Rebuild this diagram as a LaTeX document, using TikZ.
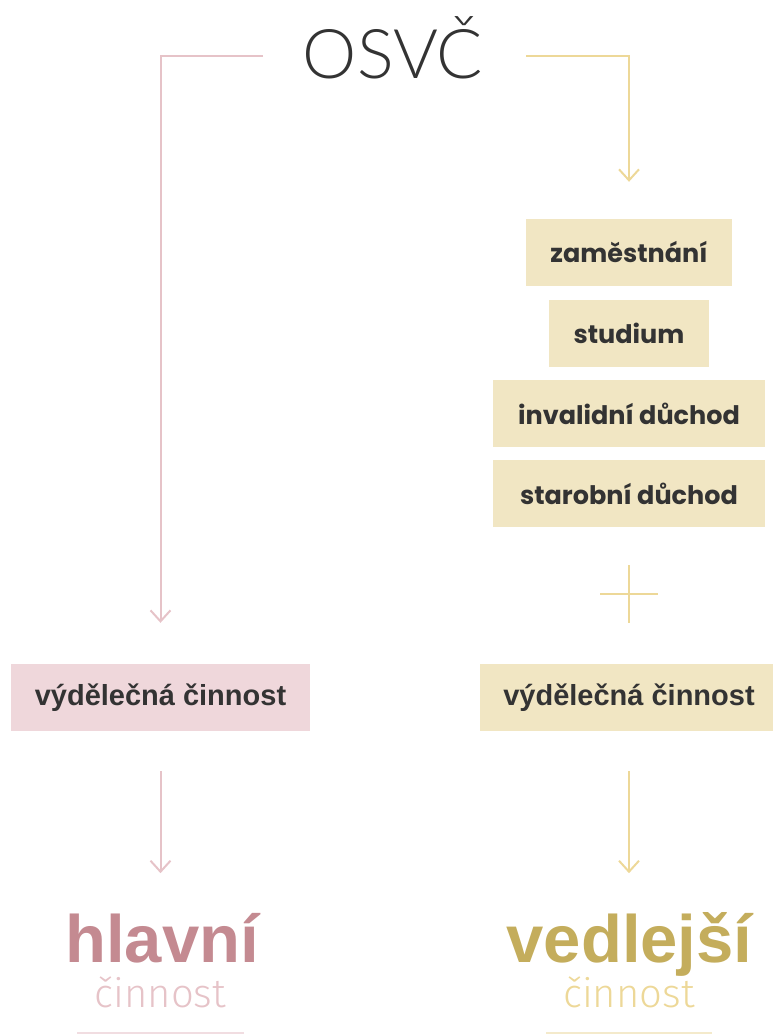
\documentclass[tikz,border=0pt]{standalone}
\usepackage{fontspec}
\setmainfont{Liberation Sans}
\newfontfamily\lightfont{Fira Sans}[UprightFont={* Light}]
\newfontfamily\titlefont{Lato}[UprightFont={* Light}]
\newfontfamily\boxfont{Poppins}
\usetikzlibrary{arrows.meta}
\definecolor{pinkline}{HTML}{E6C3C8}
\definecolor{pinkfill}{HTML}{EFD7DB}
\definecolor{pinkstrong}{HTML}{C48A91}
\definecolor{pinkfaint}{HTML}{F1DDE1}
\definecolor{yelline}{HTML}{EDD898}
\definecolor{yelfill}{HTML}{F1E6C3}
\definecolor{yelstrong}{HTML}{C4AD5C}
\definecolor{yelfaint}{HTML}{F4EACB}
\definecolor{darktext}{HTML}{333333}
\tikzset{
  x=1pt, y=-1pt,
  vtip/.style={-{Straight Barb[length=11pt,width=20pt,line width=2pt]}},
  pline/.style={draw=pinkline, line width=2pt},
  yline/.style={draw=yelline, line width=2pt},
  ybox/.style={fill=yelfill, text=darktext, minimum height=67pt, inner sep=0pt, font=\boxfont\bfseries\fontsize{25.5}{28}\selectfont},
  vbox/.style={minimum height=67pt, minimum width=299pt, inner sep=0pt, text=darktext, font=\bfseries\fontsize{29}{32}\selectfont},
  bigword/.style={anchor=base, inner sep=0pt, font=\bfseries\fontsize{67}{70}\selectfont},
  subword/.style={anchor=base, inner sep=0pt, font=\lightfont\fontsize{40}{44}\selectfont},
}
\begin{document}
\begin{tikzpicture}
\useasboundingbox (0,0) rectangle (772,1034);
% title
\node[anchor=base, inner sep=0pt, text=darktext, font=\titlefont\fontsize{68.5}{74}\selectfont] (osvc) at (393,78) {OSVČ};
% right column boxes
\node[ybox, minimum width=206pt] (zam) at (629,252.5) {zaměstnání};
\node[ybox, minimum width=160pt] (stu) at (629,333.5) {studium};
\node[ybox, minimum width=272pt] (inv) at (629,413.5) {invalidní důchod};
\node[ybox, minimum width=272pt] (sta) at (629,493.5) {starobní důchod};
% activity boxes
\node[vbox, fill=pinkfill] (vcl) at (160.5,697.5) {výdělečná činnost};
\node[vbox, fill=yelfill] (vcr) at (629,697.5) {výdělečná činnost};
% bottom labels
\node[bigword, text=pinkstrong] (hl) at (162,962) {hlavní};
\node[subword, text=pinkline] (hlc) at (160.5,1007) {činnost};
\node[bigword, text=yelstrong] (ved) at (629.5,962) {vedlejší};
\node[subword, text=yelline] (vedc) at (629,1007) {činnost};
% connector ends
\coordinate (pstart) at (263,56);
\coordinate (ystart) at (526,56);
% connectors
\draw[pline, vtip] (pstart) -| ([yshift=41pt]vcl.north);
\draw[yline, vtip] (ystart) -| ([yshift=37pt]zam.north);
\draw[pline, vtip] ([yshift=-40pt]vcl.south) -- ([yshift=-142pt]vcl.south);
\draw[yline, vtip] ([yshift=-40pt]vcr.south) -- ([yshift=-142pt]vcr.south);
% plus sign
\draw[yline] (629,565) -- (629,623);
\draw[yline] (600,594) -- (658,594);
% faint underlines
\draw[draw=pinkfaint, line width=2pt] (77,1033) -- (244,1033);
\draw[draw=yelfaint, line width=2pt] (546,1033) -- (712,1033);
\end{tikzpicture}
\end{document}
